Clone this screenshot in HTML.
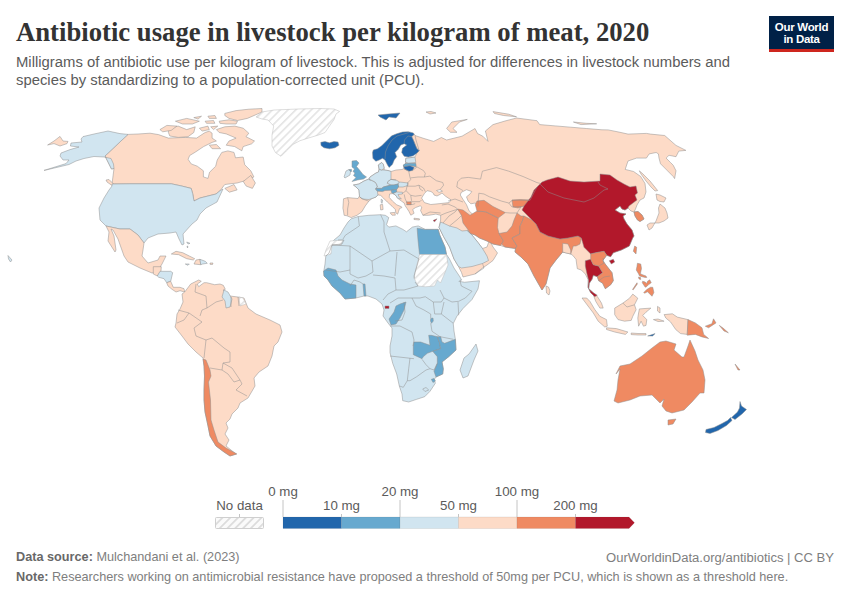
<!DOCTYPE html>
<html><head><meta charset="utf-8">
<style>
html,body{margin:0;padding:0;background:#fff;width:850px;height:600px;overflow:hidden;position:relative}
.t{position:absolute;white-space:nowrap;font-family:"Liberation Sans",sans-serif}
#title{left:16px;top:16.5px;font-family:"Liberation Serif",serif;font-weight:bold;font-size:26.7px;color:#333}
.sub{left:16px;font-size:14.85px;color:#5b5b5b}
.foot{font-size:12.7px;color:#7e7e7e}
.foot b{font-weight:bold;color:#686868}
.lg{font-size:12.75px;color:#5b5b5b}
#logo{position:absolute;left:769px;top:16px;width:65px;height:36px;background:#002147}
#logo .bar{position:absolute;left:0;bottom:0;width:65px;height:3px;background:#ce261e}
#logo .txt{position:absolute;left:0;top:5px;width:65px;text-align:center;color:#fff;font-family:"Liberation Sans",sans-serif;font-weight:bold;font-size:11.5px;line-height:12px;letter-spacing:-0.3px}
svg{position:absolute;left:0;top:0}
</style></head><body>
<div id="title" class="t">Antibiotic usage in livestock per kilogram of meat, 2020</div>
<div class="t sub" style="top:53.5px">Milligrams of antibiotic use per kilogram of livestock. This is adjusted for differences in livestock numbers and</div>
<div class="t sub" style="top:71.5px">species by standardizing to a population-corrected unit (PCU).</div>
<div id="logo"><div class="txt">Our World<br>in Data</div><div class="bar"></div></div>

<svg width="850" height="600" viewBox="0 0 850 600">
<defs>
<pattern id="hatch" patternUnits="userSpaceOnUse" width="5.5" height="5.5" patternTransform="rotate(-45)">
<rect width="5.5" height="5.5" fill="#fff"/><rect width="5.5" height="1.6" fill="#e3e3e3"/>
</pattern>
<pattern id="hatch2" patternUnits="userSpaceOnUse" width="5.5" height="5.5" patternTransform="rotate(-45)">
<rect width="5.5" height="5.5" fill="#fafafa"/><rect width="5.5" height="1.8" fill="#dcdcdc"/>
</pattern>
</defs>
<g id="map" stroke="#8f8f8f" stroke-width="0.5" stroke-linejoin="round">
<path d="M47.6,145 54,141 60,136.4 63,141 68,141.4 67,143.6 60,146 54,143.6Z" fill="#fddbc7"/>
<path d="M128,134.4 138,134 150,133.2 158.5,134.6 168.4,138.1 185.3,137.4 196.6,138.1 200.8,135.3 205.1,132.5 209.3,131.1 212.1,133.2 212.1,138.1 216.4,141 212.1,142.4 203.6,146.6 195.2,152.2 189.7,155.5 188.1,159.3 191.2,163.9 197.3,166.2 203.4,170.8 203.4,176.9 208,178.4 209.5,172.3 215.7,166.2 217.2,160.1 221.8,152.4 227.9,150.9 234,152.4 235.5,157.8 243.2,157 244.7,164.7 250.8,170.8 253.9,176.9 247.8,180 237.1,183 224.8,184.5 221.8,188.4 220.2,190.6 216,194 200,198 194,201 192.7,193.7 191.2,188.4 182,186.1 171.3,183.8 130,183.8 112,184 114,168.5 111.5,169 108.5,163 105,156Z" fill="#fddbc7"/>
<path d="M128,134.4 120,133.6 108,131 94,134 83,136.6 81,139 82,142 71,143 70.4,146 79,147 70,149.6 61,153 60,156 63,160 69,160 66,163.6 44,170.4 46,170 69,164.5 76,161 84,158.5 94,156.5 104,157 111,158.5 113.5,164 114,168.5 111.5,169 108.5,163 105,156Z" fill="#d1e5f0"/>
<path d="M106,180 109,179.5 114,184.5 112,185.5 107,182Z" fill="#fddbc7"/>
<path d="M216.4,129.6 224.8,126.8 234.7,126.1 243.2,128.2 248.8,133.2 246,136.7 254.5,141 251.7,143.8 243.2,146.6 241.8,150.8 234.7,146.6 226.2,145.2 229,141 236.1,138.1 226.2,133.9 219.2,132.5Z" fill="#fddbc7"/>
<path d="M224.8,113.4 236.1,110.6 248.8,109.2 262,108.5 262,112 257.3,114.1 247.4,118.4 237.5,120.5 229,118.4 224.8,115.5Z" fill="#fddbc7"/>
<path d="M219.2,121.2 229,119.8 237.5,121.2 236.1,124 226.2,124 219.9,123.3Z" fill="#fddbc7"/>
<path d="M168.4,128.2 178.2,126.1 186.7,129.6 195.2,126.8 193.8,132.5 188.1,136.7 178.2,137.4 169.8,136 168.4,132.5Z" fill="#fddbc7"/>
<path d="M159.9,129.6 166.9,125.4 176.8,126.1 171.2,130.4 162.7,131.8Z" fill="#fddbc7"/>
<path d="M175.4,121.2 186.7,118.4 199.4,121.2 192.4,124 182.5,124Z" fill="#fddbc7"/>
<path d="M193.8,117.6 201.5,116.2 198,119.1Z" fill="#fddbc7"/>
<path d="M207.9,116.2 214.9,115.5 216.4,118.4 209.3,118.4Z" fill="#fddbc7"/>
<path d="M205.1,121.2 213.5,120.5 214.9,123.3 206.5,123.3Z" fill="#fddbc7"/>
<path d="M199.4,128.2 207.9,126.1 209.3,129.6 202.2,131.1Z" fill="#fddbc7"/>
<path d="M210.7,126.8 217.8,126.1 213.5,129.6Z" fill="#fddbc7"/>
<path d="M209.3,145.2 216.4,144.5 220.6,148.7 212.1,148.7Z" fill="#fddbc7"/>
<path d="M243.2,181.5 250.8,175.4 255.4,183 252.4,188.4 246.2,186.1Z" fill="#fddbc7"/>
<path d="M224.8,188.4 234,184.5 237.1,189.9 229.4,192.2Z" fill="#fddbc7"/>
<path d="M256,117 262,112 274,110 298,109 320,108.5 334,109 339.6,111.4 336,114 334,119.6 329.5,126 325,132.5 318.5,135 308.5,138 300,140.7 293,144.4 286.5,150.8 281,156.3 275.5,152.6 272,146 272,135 273.7,126 268,120 262,119Z" fill="url(#hatch)" stroke="#bdbdbd"/>
<path d="M320.8,142.3 325,141.6 329.5,142.8 334,141.6 338,142 339,145.3 335,147.8 329.5,148.8 324,147.8 321,145.5Z" fill="#2166ac"/>
<path d="M112,184 130,183.8 171.3,183.8 182,186.1 191.2,188.4 192.7,193.7 194,201 200,198 216,194 220.2,190.6 223,189 217,202 206,208 200,214 197,220 192,224 183,234 184,244 182,245 179,239 176,232 170,233 158,234 148,238 144,243 138,235 130,229 120,229 106,226 100,220 99,208 104,198 109,190 112,186Z" fill="#d1e5f0"/>
<path d="M8,255.5 12,260 10.5,262 8.5,259Z" fill="#d1e5f0"/>
<path d="M106,226 120,229 130,229 138,235 144,243 143,250 142,256 148,263 158,260 160,256 166,256 162,264 159,269 156,272 152,273 140,268 128,262 124,256 118,239 113,230 111,229 114,236 116,250 115,252 108,241 109,232Z" fill="#fddbc7"/>
<path d="M153.3,266.7 161.3,266.7 161,271 157.3,276 153.3,274Z" fill="#fddbc7"/>
<path d="M157.3,276 160,271.3 170.7,271.3 172.7,272.7 170.7,281.3 166.7,282.7 164,278.7 158.7,277.3Z" fill="#d1e5f0"/>
<path d="M166.7,282.7 170.7,281.3 173.3,287.3 180,287.3 184,288.7 184.7,292 180,290.7 176,292 172,289.3 168,286Z" fill="#fddbc7"/>
<path d="M171.3,254 176,251.3 182.7,252.7 189.3,256 194.7,258.7 193.3,260 186.7,258.7 178.7,254.7Z" fill="#fddbc7"/>
<path d="M196,260 200,259.3 200.7,264.7 194,264Z" fill="#fddbc7"/>
<path d="M200,259.3 205.3,261.3 207.3,263.3 202.7,264 200.7,264.7Z" fill="#d1e5f0"/>
<path d="M185.3,264 189.3,264 188,265.3Z" fill="#d1e5f0"/>
<path d="M186.7,242 190,243.3 188,244Z" fill="#d1e5f0"/>
<path d="M187,246 188,246.5 187.5,248Z" fill="#d1e5f0"/>
<path d="M210,263 213,263 212.5,264.5 210,264.3Z" fill="#fddbc7"/>
<path d="M184.7,292 190.7,284 198.7,280 201.3,281.3 197.3,284 198.7,286.7 204,282.7 206.7,282.7 214.7,284.7 220,284 223.3,285.3 225.3,289.3 223,290 230,296 238,297 244,298 248,308 256,314 270,320 280,325 282,332 278,342 274,346 272,356 268,366 259,372 254,378 255,386 248,398 240,403 238,408 232,414 230,419 226,423 228,428 225,434 229,440 226,446 236,454 230,456 224,452 216,446 210,436 208,426 205,412 204,400 204,390 204.5,376 204,366 203,358 196,352 188,344 182,336 175,327 176,323 177,314 180,309 183,302 182,294Z" fill="#fddbc7"/>
<path d="M203,359 206,360 210,370 211,376 208.5,382 210.5,400 211,420 214,430 218,442 226,448 237,454 230,456 224,452 216,446 210,436 208,426 205,412 204,400 204,390 204.5,376 204,366Z" fill="#ef8a62"/>
<path d="M224,290 228,292 232,299 230,307 226,308 225,301 222,297Z" fill="#d1e5f0"/>
<path d="M239,297 243,298 246,304 240,306Z" fill="url(#hatch)" stroke="#bdbdbd"/>
<path d="M351.2,218.8 358.2,216.5 368.8,215.3 380.6,214.7 385.3,215.3 388.8,217.6 386.5,224.7 388.8,227.1 395.9,225.9 402.9,229.4 406.5,231.8 412.4,227.1 418.2,225.9 425.3,229.4 434.7,229.4 438.2,229.4 439.75,235 445,247 446.5,254.5 449.5,259 454,268 460,277 461.5,280 460,281.5 464.5,282.25 479.5,280.75 478,289 472,299.5 463,308.5 457,316 453.25,323.5 454,331 455.5,340 456,350 448.7,356.7 442,362 443.3,368.7 442.7,374 436,377 434.5,379 435.3,383.3 430,391.3 424.7,396.7 416.7,399.3 408.7,402 402.7,400.7 402,394 399.3,386 396.7,374 392.7,363.3 390,352.7 390,346 392,336 392,328 388,323 383,316 384,310 382,304 376,299 368,296 364,296 356,298 345,299 340,293 332,286 328,280 324,276 324,270 325,264 326,254 330,245 334,240 340,235 344,228 348,222Z" fill="#d1e5f0"/>
<path d="M476,344 478,351 474,360 468,376 463,378 460,370 464,358 469,354Z" fill="#d1e5f0"/>
<path d="M324,256 326,250 330,241 343,240 341,245 332,245 331,254Z" fill="url(#hatch)" stroke="#bdbdbd"/>
<path d="M417.1,228.2 425.3,229.4 434.7,229.4 438.2,229.4 439.75,235 445,247 446.5,254.5 419.5,254.5 418,240Z" fill="#67a9cf"/>
<path d="M419.5,254.5 446.5,254.5 448,265 445,272.5 440.5,283 437.5,280 434.5,286 425.5,286.75 418,286 414.25,278.5 415,272.5 418,260.5Z" fill="url(#hatch)" stroke="#bdbdbd"/>
<path d="M323.5,271 328,268 336,270 338,276 342,280 350,284 356,285 356,298 345,299 340,293 332,286 328,280 324,276Z" fill="#67a9cf"/>
<path d="M363,284 365,284 366,296 364,296Z" fill="#67a9cf"/>
<path d="M385,306 389,306 389,308.5 385,308.5Z" fill="#b2182b"/>
<path d="M389,319 394,312 396,306 400,304 406,302 404,310 400,318 396,324 391,325Z" fill="#67a9cf"/>
<path d="M413.3,346 414,342 420.7,342 430,345.3 428.7,335.3 431.3,335.3 437.3,336.7 439.3,342 440.7,348.7 432.7,351.3 427.3,353.3 423.3,356.7 422,358.7 413.3,354.7Z" fill="#67a9cf"/>
<path d="M437.3,336.7 440.7,336.7 442,342 444.7,343.3 455.3,339.3 456,350 448.7,356.7 442,362 443.3,368.7 442.7,374 436,377 434,371.3 437.3,363.3 437.3,356.7 432.7,351.3 440.7,348.7 439.3,342Z" fill="#67a9cf"/>
<path d="M431.3,379.3 434,378.5 435.3,381 433,382.5Z" fill="#67a9cf"/>
<path d="M422.7,389 426,387.5 428.7,390 425,391.5Z" fill="#d1e5f0"/>
<path d="M430.7,318.5 433,318 433.3,321 431.5,323.3 430.5,321Z" fill="#67a9cf"/>
<path d="M351.2,217.6 347,215.8 344.1,215.3 343.5,211 342.9,208.2 343.5,198.8 347.6,197.6 358,198.5 359.5,196 359,190 356,187 353.5,185 359,184 364,181 369,179 370,177 373,175 376,173 378.5,172 379,169 378.3,165 381.7,162.5 383.3,164.2 384.2,168.3 384,170 388,170.5 391,171.5 396,170 402,169.5 404,168.5 403.75,166.7 403.3,165 405.5,164 405.8,158.3 415,157.1 416.7,153.3 419.2,150.8 416.7,148.3 415,144.2 413.3,140 411.7,136.7 414.2,134.2 415,135.5 424,138.5 433.6,141.4 441.4,137.5 446.6,140 462,136.2 475,128.5 477.6,133.6 482.8,136.2 488,141.4 485.4,131 493,124.6 505,121 516.5,118 537,120.7 539.7,124.6 555.3,125.9 570.8,127.2 586.3,128.5 602,129.8 608.2,129.9 620,132.3 628,134.1 646.4,133.4 650.6,134.1 664.7,135.5 676,145.4 685.9,150.4 678.8,151.1 676,156.7 669,155.3 666.1,158.1 670.4,162.4 673.2,165.2 676,170.8 674.6,178.6 673.2,176.5 667.5,170.8 660.5,163.8 659,158.1 658.4,153.9 656.2,152.5 649.2,153.9 646.4,158.1 636.5,158.1 628,161 625.2,169.4 633.6,171.5 640.7,176.5 645,183.5 646,192 644,198 640,200 637,205 635.5,209 634,212 638,211.5 642,215 644,219 640,221.5 637.5,220 635,216 634,212 631,211 628,208 625,210 622,209 620,206 615,210 620,213 626,214 623,216 624,219 627,224 632,230 634,236 632.7,238 629.3,246 621.3,250 613.3,252.7 610.7,256.7 606.7,255.3 602.7,260.7 606.7,266 612,272.7 613.3,280.7 610.7,284.7 605.3,288.7 602.7,283.3 598.7,280.7 597.3,276.7 593.3,275.3 592,279.3 589.3,283.3 588.7,288.7 593.3,292.7 597.4,296.5 601.5,303.1 603.2,308.1 599.9,308.1 595.8,301.5 593.3,294.9 590.7,292.7 588,287.3 588,279.3 585.3,274 581.3,270 577.3,268.7 576,259.3 572.7,255.3 570.7,254 562.7,252 556,260 550,268 546,284 542,290 534,276 528,264 521,257 515,252 515.5,248.5 505,247 500.5,245.5 493,244 487,241 479.5,238 475,235 470.5,233.5 467,230.5 472,235 478,242.5 482.5,248.5 487,247 488.5,242.5 490,241 493,247 497.5,253 493,260.5 487,265 482.5,268 475,274 463,277 461.5,272.5 458.5,266.5 454,259 449.5,247 443.5,236.5 439,227.5 440.6,220 440.6,215.3 435.9,214.1 428.8,215.3 422.9,215.3 420.6,210.6 421.8,207.1 420.2,205.8 415.5,207.6 412.7,209.5 414.1,213.3 410.8,215.2 408.9,211.4 407.1,208.6 405.2,205.8 404.2,203 401.4,201.1 397.6,198.2 395.8,195.4 393,193.5 389.6,194 389.2,197.3 392.5,201.1 396.7,204.8 401.4,206.7 401.9,207.6 399.5,208.6 398.6,211.4 397.6,214.2 395.8,212.8 395.3,209.5 392,206.2 387.3,202 383.5,198.2 380.7,195.4 377.9,194.9 376,197 372,198.5 368.8,201.2 365.3,205.9 361.8,211.8 357,215.3Z" fill="#fddbc7"/>
<path d="M421.6,198.1 424.4,193.5 427.1,190.7 431,191.5 433.5,193.5 434,195 437,196 440,194.4 442,193 445.5,196.2 451,199.9 449.1,202.6 440,203.6 430.8,204.5 424.4,202.6Z" fill="#fff"/>
<path d="M436.5,190.5 440,189.6 442.5,191.2 439,192.3Z" fill="#fff"/>
<path d="M461.2,192.4 466.5,189.7 471.8,191.5 470,194 466.5,196.8 468.2,201.2 470.9,203.8 475.3,203 478.5,206.5 479,213.5 474,215.5 469.1,210.9 466.5,204.7 463,199.4 460.3,195Z" fill="#fff"/>
<path d="M372.5,152.5 373.3,150 377.5,148.75 381.7,145.8 386.7,140.8 391.7,135.8 396.7,133.75 402.5,132 408.3,131.7 413.3,132.9 414.2,134.2 411.7,136.7 413.3,140 415,144.2 416.7,148.3 419.2,150.8 416.7,153.3 413.3,155.8 408.3,157.1 404.2,156.25 401.7,152.5 402.5,148.3 406.7,145 404.2,143.75 400.8,145 398.3,149.2 395,152.5 396.7,156.7 394.2,160 392.5,164.2 389.2,167.5 387.5,165 385,160 382.5,158.3 379.2,160 375.8,161.25 372.9,158.3Z" fill="#2166ac"/>
<path d="M378,115 388,114 400,113 396,118 389,117 386,120 380,117Z" fill="#2166ac"/>
<path d="M446.6,128.5 451.8,122 467.3,119.4 459.5,122 453,128.5 457,132.3 450.5,132.3Z" fill="#fddbc7"/>
<path d="M426,112 431,111.5 436,113 430,114Z" fill="#fddbc7"/>
<path d="M493,111.6 508.7,114.2 516.5,116.8 503.5,115.5 494.5,113.5Z" fill="#fddbc7"/>
<path d="M573.4,122 586.3,123.3 596.7,123.8 581,124.6Z" fill="#fddbc7"/>
<path d="M352,161 356.5,160.5 359,163 356.5,166.5 359.5,170 363,174.5 366.5,177 363.5,179 357.5,180 352,181.5 356,177.5 353.5,175.5 355,173 353,171.5 354.5,169 352,167Z" fill="#67a9cf"/>
<path d="M344,177 346,171 349,169.5 350.5,171.5 350,175 345,178Z" fill="#d1e5f0"/>
<path d="M349,169.5 351.5,169.5 351.5,171.5 350.5,171.5Z" fill="#67a9cf"/>
<path d="M353.5,185 359,184 364,181 369,179 372,180.5 375,182 376.5,184 377.5,187 376,188.4 375.5,189.5 377.4,191.2 377.9,194.9 376,197 372,198.5 369,199.5 362,199 359.5,196.5 359,190 356,187Z" fill="#d1e5f0"/>
<path d="M369,179 370,177 373,175 376,173 378.5,172 379,169.5 381.7,170 384,170 388,170.5 391,171.5 391,179.4 388.2,181.3 387.3,183.2 391,185 383.5,187 381.6,188.4 376,188.4 377.5,187 376.5,184 375,182 372,180.5Z" fill="#d1e5f0"/>
<path d="M378.3,165 381.7,162.5 383.3,164.2 384.2,168.3 381.7,170 379.2,169.2Z" fill="#d1e5f0"/>
<path d="M391,179.4 396,180 399.5,182 398,184 394,185 391,185 387.3,183.2 388.2,181.3Z" fill="#d1e5f0"/>
<path d="M399.5,182 404,182.5 408,183 408,185.5 403,187 398.6,187 398,184Z" fill="#d1e5f0"/>
<path d="M375.5,188.5 376,188.4 381.6,188.4 383.5,187 391,185 394,185 398,184 398.6,187 396.7,189.5 391,190.2 385,190.5 382.6,191.6 377.4,191.2Z" fill="#67a9cf"/>
<path d="M391,190.2 396.7,189.5 396.7,192 393,193.5 391.5,192.5Z" fill="#67a9cf"/>
<path d="M393,193.5 396.7,192 402.4,192.2 402.4,194 398,194.5 399,196.5 401.4,199 397.6,198.2 395.8,195.4Z" fill="#d1e5f0"/>
<path d="M381.2,199.2 382.6,200.1 382.1,203.4 381.2,202.5Z" fill="#d1e5f0"/>
<path d="M380.2,204.8 382.6,204.4 383.1,209.5 380.7,210Z" fill="#fddbc7"/>
<path d="M390.1,212.8 394.8,212.4 395.3,215.2 392,215.2Z" fill="#fddbc7"/>
<path d="M405.8,158.3 415,157.1 415.8,162.5 408.3,163.3 405.5,162Z" fill="#d1e5f0"/>
<path d="M403.3,165 405.5,163.5 408.3,163.3 415.8,163.3 416.25,166.7 410,165.8 403.75,166.7Z" fill="#67a9cf"/>
<path d="M403.75,166.7 410,165.8 414.2,167.5 412.5,170.4 409.2,171.25 404.6,169.2Z" fill="#2166ac"/>
<path d="M406.5,201.8 411.2,202 411.2,204.7 407,204.7Z" fill="#ef8a62"/>
<path d="M414,218.2 419.4,218.8 419.4,220 414,219.5Z" fill="#fddbc7"/>
<path d="M433,220.6 437,218.8 434.7,221.8Z" fill="#b2182b"/>
<path d="M439,227.5 440.6,222 443,223 449.5,226 457,228 462,231 467,230.5 472,235 478,242.5 482.5,248.5 487,256 488.5,260.5 482.5,263.5 472,266.5 461.5,268 458.5,266.5 454,259 449.5,247 443.5,236.5Z" fill="#d1e5f0"/>
<path d="M457.6,209 463,210 470,215.3 477,211 485.9,211.8 498.2,218 497.5,227.5 499,233.5 503.5,241 500.5,245.5 493,244 487,241 479.5,238 475,235 470.5,233.5 467.5,229 463,223 461.5,215.5Z" fill="#ef8a62"/>
<path d="M477,201 484,200.3 493,206.5 505.3,212.6 498.2,218 485.9,211.8 477,211 475.3,204.7Z" fill="#ef8a62"/>
<path d="M512,200 520,199.5 530,200 524,206 518,208 513,207Z" fill="#ef8a62"/>
<path d="M517,213 521,216 524,216 522,222 520,226 520,234 512,238 517,246 515.5,248.5 505,247 501.5,244 503.5,241 499,233.5 507,232 512,226 514,220Z" fill="#ef8a62"/>
<path d="M524,216 532,220 536,224 540,232 548,236 560,239 568,238 578,236 581.3,238 580,244 576,246 573.3,246 572,250 570.7,254 568,252 562.7,252 556,260 550,268 546,284 542,290 534,276 528,264 521,257 515,252 515.5,248.5 517,246 512,238 520,234 520,226 522,222Z" fill="#ef8a62"/>
<path d="M562.7,243.3 568,244 570.7,250 570.7,254 566,253 562.7,252Z" fill="#fddbc7"/>
<path d="M546,286 548.5,287 550,291 549,295 546.5,293Z" fill="#fddbc7"/>
<path d="M542,182 534,190 531,197 524,206 522,210 530,218 532,220 536,224 540,232 548,236 560,239 568,238 578,236 581.3,238 584,247.3 590.7,254 596,252.7 604,251.3 606.7,255.3 610.7,256.7 613.3,252.7 621.3,250 629.3,246 632.7,238 634,236 632,230 627,224 624,219 623,216 626,214 620,213 615,210 620,206 622,209 625,210 628,208 629,206 633,203 637,200 635,195 637.5,193 636,186 630,187 624,184 617,180 610,175 600,174 600,181 584,182 570,181 558,177 547,180Z" fill="#b2182b"/>
<path d="M609.3,260.7 613.3,259.3 614.7,262 611.3,264Z" fill="#b2182b"/>
<path d="M585.3,260.7 590.7,259.3 593.3,264.7 598.7,266 602.7,272.7 597.3,276.7 593.3,275.3 592,279.3 589.3,283.3 588.7,288.7 593.3,292.7 597.3,295.3 594.7,296.7 590.7,292.7 588,287.3 588.7,280.7 586.7,272.7 585.3,266Z" fill="#b2182b"/>
<path d="M590.7,254 596,252.7 604,251.3 606.7,255.3 602.7,260.7 606.7,266 612,272.7 613.3,280.7 610.7,284.7 605.3,288.7 602.7,283.3 598.7,280.7 597.3,276.7 602.7,272.7 598.7,266 593.3,264.7 590.7,259.3Z" fill="#ef8a62"/>
<path d="M634,212 638,211.5 642,215 644,219 640,221.5 637.5,220 635,216Z" fill="#ef8a62"/>
<path d="M656,194 660,195 666,198 664,202 660,201.5 657,200Z" fill="#fddbc7"/>
<path d="M660,204 665,208 667,213 668,218 664,221 659,223 654,223 650,223 647,225 649,230 652,228 654,224.5 656,221 657.5,217 659,213 658.5,208Z" fill="#fddbc7"/>
<path d="M639.3,170.8 643,174 650,181 654,186 657.7,190.6 655,191 651,187 646,181 641,174Z" fill="#fddbc7"/>
<path d="M634.7,246 636.7,247.3 636,254 633.3,251.3Z" fill="#ef8a62"/>
<path d="M637.4,263.25 640.75,264 641.5,268.5 640.4,273.75 643,274.9 646,276 646.75,277.5 645.25,277.5 642.25,276.75 639.6,276 638.5,273.75 636.25,270 637,266.25Z" fill="#ef8a62"/>
<path d="M638.5,277 640.5,277.5 640.75,279.5 639,279Z" fill="#ef8a62"/>
<path d="M642.6,281.25 645.25,282 646.75,283.5 647.5,281.25 649.75,279.75 651.25,282.75 649,284.25 646.75,286.5 645.25,287.25 643.75,285 642.25,282.75Z" fill="#ef8a62"/>
<path d="M643.75,292.5 646.75,289.5 650.5,287.25 652.75,287.25 653.9,292.5 652,296.25 649.75,294 647.5,291.75 644.5,293.25Z" fill="#ef8a62"/>
<path d="M632.5,289.5 637,282.75 637.4,283.9 633.25,289.8Z" fill="#ef8a62"/>
<path d="M582,298 586.7,298 590,301.5 594.9,309.7 599.9,316.3 606.5,319.6 607.3,326.2 604.8,327 598.2,321.2 593.3,313 588,306Z" fill="#fddbc7"/>
<path d="M606.5,327.8 616.4,328.6 627.9,332 625.4,334.4 614.7,332 606.5,329.5Z" fill="#fddbc7"/>
<path d="M631.2,333 638,333.5 646,333.6 646,335 638,335 631.2,334.6Z" fill="#fddbc7"/>
<path d="M647.7,336 655.1,333.6 652.6,336Z" fill="#2166ac"/>
<path d="M614.7,308.1 622.9,303.1 629.5,298.2 632.8,294.1 637.8,298.2 634.5,304.8 636.1,309.7 632.8,316.3 631.2,320.4 624.6,321.2 618,319.6 614.7,314.6Z" fill="#fddbc7"/>
<path d="M639.4,308.9 650.9,308.1 646,312.2 642.7,315.5 646.8,319.6 646,325.4 643.5,326.2 641.1,321.2 638.6,326.2 637.8,318 638.6,313Z" fill="#fddbc7"/>
<path d="M657.5,306.4 660,308 660,313 657.5,311Z" fill="#fddbc7"/>
<path d="M653.4,319.6 658,319 664.1,321.2 658,321.5Z" fill="#fddbc7"/>
<path d="M664.1,314.6 672.4,313.8 677.3,317.1 688,319.6 687.2,334.4 680.6,333.6 675.7,329.5 670.7,322.1 665.8,318Z" fill="#fddbc7"/>
<path d="M688,319.6 695.4,322.9 702,327.8 703.7,334.4 708.6,338.5 702,336.9 695.4,334.4 687.2,335.2Z" fill="#ef8a62"/>
<path d="M705.3,326.2 711.9,323.7 713.5,318.8 716,322.9 708.6,327.8Z" fill="#ef8a62"/>
<path d="M719.3,325.4 723,328 728.4,332.8 724,331Z" fill="#ef8a62"/>
<path d="M616,374 620,366 630,364 642,356 652,348 660,342 666,341 676,344 674,350 682,357 684,357 688,346 690,340 695,351 698,360 703,370 705,380 704,393 700,393 692,402 684,410 672,413 666,411 662,406 664,399 660,403 652,395 640,396 630,400 618,403 614,401 617,390 618,380 620,369Z" fill="#ef8a62"/>
<path d="M668,420 676,419 673,424 668,425Z" fill="#ef8a62"/>
<path d="M735,364 740,370 738,370Z" fill="#ef8a62"/>
<path d="M740,401.5 741.5,406 746.5,409.5 742,414 735,419.5 731.5,417.5 737.5,412 739.5,408Z" fill="#2166ac"/>
<path d="M730.5,417.5 727.5,420.5 722,423.5 714,427.5 706,429.5 705.5,432.5 710,433.5 718,430.5 726.5,425.5 732,420.5Z" fill="#2166ac"/>
<path fill="none" d="M196,284 195,292 206,296 207,308 202,310 200,316 M207,308 216,302 223,300 M178,310 189,313 202,322 M177,323 184,320 189,313 M202,322 194,328 196,336 206,340 212,338 M206,340 204,358 M212,338 224,348 230,352 230,362 223,363 222,370 210,368 M223,363 232,368 240,380 234,382 228,374 222,370 M240,380 242,384 236,390 247,396 M231,297 231,307 M238,297 239,306 M358.2,216.5 359.4,225.9 345.3,235.3 343,239 M338,240 344,240 342,244 332,245 329,253 326,256 M332,245 350,246 350,270 340,272 326,270 M350,246 372,261 390,251 384,232 384,222 380.6,214.7 M390,251 404,250 419,259 M372,261 373,272 366,276 358,278 350,274 350,270 M397,252 395,276 M373,275 384,276 395,278 396,290 388,294 383,300 M396,290 404,290 418,286 M390,326 400,326 412,332 414,340 413,346 M350,286 354,280 360,282 363,284 M404,302 405,312 402,320 395,321 M390,356 414,358.7 M410,358 408.7,368.7 407.3,380.7 403.3,387.3 399.5,386 M407.3,380.7 410,380.7 416.7,376.7 426,370 430,368.7 434,370 M422,359.3 426,364.7 430,368.7 M437.3,363.3 434,370 M419,259 414,276 414.25,278.5 M390,303 398,298 412,298 420,298 425.3,296.7 433.3,302 441.3,302 444,298 440,290 M444,298 452,302 458.7,301.3 465.3,298 472,291.3 461.3,286 460,280.7 M444,302 441.3,314 453.3,323.3 M458,302 458.7,315.3 M433.3,302 434.7,314 441.3,314 M412,298 416,306 424,310 430.7,314 430.7,318 M430.7,323.3 432,331.3 440,336.7 453.3,339.3 M458.7,282 461.3,279.3 M385,159 385.5,152 388,146 392,140 397,136 404,134 409,132.5 M404.2,143.75 404.5,140 408,136 411.7,136.7 M347.6,197.6 348.8,202.4 347.6,209 347.6,215.3 M359.5,197 364,199.5 368.8,201.2 M369,179 370.5,181 M391,179.4 396,180 M404,168.5 408.8,171.5 409.7,176.1 410.7,179.7 407.9,182.5 408,183 M412.5,170.6 417,166.9 423.5,170.6 425.3,173.3 424.4,177 M410.7,177.9 418,177 424.4,177 429.9,176.1 436.3,180.7 442.7,182.5 443.6,185.2 440,189.8 M407.9,182.5 407,186.2 415.2,186.2 418.9,185.2 423.5,188 425.3,191.6 M407,186.2 406.1,190.7 410.7,195.3 415.2,196.2 421.6,195.3 M410.7,195.3 411.6,200.8 M409.7,201.7 419.8,201.7 421.6,199.9 M402.4,193.5 406.1,190.7 M404.2,194.4 405.2,199 407,202.6 M406.1,204.5 412.5,204.5 415.2,203.6 M418.9,185.2 420,189 423,191 M440.6,215.3 446,213 455,210 457.7,209.5 M415,135.5 416,140 419.2,150.8 M540,184 548,192 564,198 584,202 594,198 604,190 608,189 600,185 598,182 M598.7,266 604,263 603,258 M598.7,280.7 604,277 610,276 M622.9,303.1 627,307 634.5,304.8 M418,286 415,282 M463,190.6 456.8,187 457.6,181.8 461.2,178.2 468.2,177.4 480.6,179.1 482.4,171.2 496.5,167.6 508.8,171.2 523,176.5 537,182.6 540.6,183.5 M477.9,206.5 478.8,193.2 484,194 489.4,196.8 501.8,201.2 508.8,203 512.4,200.3 530,200.3 537,187 M505.3,212.6 510,213 517,213 521.2,206.5 M508.8,203 512,207 521.2,206.5 M443,223 449,216 455,212 457.6,209 M449.5,226 458,219 461.5,215.5 M422.9,215.3 430,212 440.6,213 M482.5,263.5 484,268 475,274 M441.8,205 448,204 455,207 457.6,209 M448,201 455,199 463,202"/>
</g>
<!-- legend -->
<g id="legend">
<rect x="215.5" y="517.5" width="48" height="11" rx="1" fill="url(#hatch2)" stroke="#cfcfcf" stroke-width="1"/>
<rect x="283" y="517" width="58.5" height="11.5" fill="#2166ac" stroke="#555" stroke-opacity="0.25" stroke-width="0.4"/>
<rect x="341.5" y="517" width="58.5" height="11.5" fill="#67a9cf" stroke="#555" stroke-opacity="0.25" stroke-width="0.4"/>
<rect x="400" y="517" width="58.5" height="11.5" fill="#d1e5f0" stroke="#555" stroke-opacity="0.25" stroke-width="0.4"/>
<rect x="458.5" y="517" width="58.5" height="11.5" fill="#fddbc7" stroke="#555" stroke-opacity="0.25" stroke-width="0.4"/>
<rect x="517" y="517" width="58.5" height="11.5" fill="#ef8a62" stroke="#555" stroke-opacity="0.25" stroke-width="0.4"/>
<path d="M575.5 517 H629 L634.5 522.75 L629 528.5 H575.5 Z" fill="#b2182b" stroke="#555" stroke-opacity="0.25" stroke-width="0.4"/>
<g stroke="#c4c4c4" stroke-width="1" fill="none">
<path d="M283 500V517M400 500V517M517 500V517M341.5 514V517M458.5 514V517M575.5 514V517M239.5 514V517"/>
</g>
</g>
<g font-family="Liberation Sans, sans-serif" font-size="13.3" fill="#5b5b5b" text-anchor="middle">
<text x="283" y="496">0 mg</text><text x="400" y="496">20 mg</text><text x="517" y="496">100 mg</text>
<text x="239.5" y="509.8">No data</text><text x="341.5" y="509.8">10 mg</text><text x="458.5" y="509.8">50 mg</text><text x="575.5" y="509.8">200 mg</text>
</g>
</svg>

<div class="t foot" style="left:16px;top:550px"><b>Data source:</b> Mulchandani et al. (2023)</div>
<div class="t foot" style="right:16px;top:550px;font-size:13.05px">OurWorldinData.org/antibiotics | CC BY</div>
<div class="t foot" style="left:16px;top:570px"><b>Note:</b> Researchers working on antimicrobial resistance have proposed a threshold of 50mg per PCU, which is shown as a threshold here.</div>
</body></html>
